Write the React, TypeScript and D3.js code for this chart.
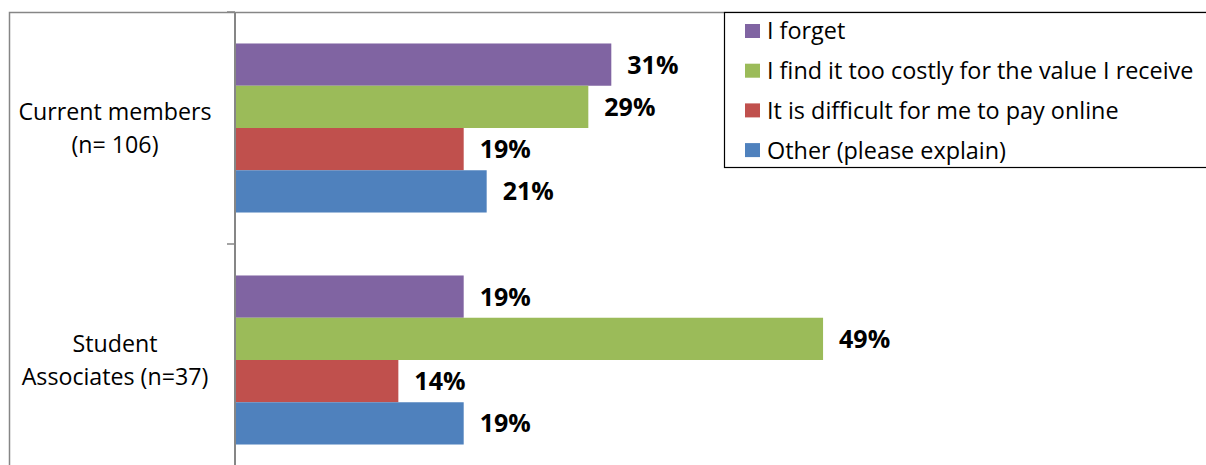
import * as d3 from 'd3';

const categories = ['Current members\n(n= 106)', 'Student\nAssociates (n=37)'];
const seriesNames = [
  'I forget',
  'I find it too costly for the value I receive',
  'It is difficult for me to pay online',
  'Other (please explain)',
];
const seriesColors = ['#8064A2', '#9BBB59', '#C0504D', '#4F81BD'];
// percent per series, one value per category
const forgetValues = [31.1, 18.9];
const costlyValues = [29.2, 48.6];
const payOnlineValues = [18.9, 13.5];
const otherValues = [20.8, 18.9];
const seriesValues = [forgetValues, costlyValues, payOnlineValues, otherValues];

const W = 1206;
const H = 465;
const FONT = '"Open Sans", "Liberation Sans", Arial, sans-serif';

export default function App() {
  const x = d3.scaleLinear().domain([0, 80]).range([235, 1203]);
  const y0 = d3.scaleBand<string>().domain(categories).range([12, 476]);
  // grouped bars take ~73% of each category band
  const inner = d3.scaleBand<number>().domain(d3.range(seriesNames.length)).range([0, y0.bandwidth()]).paddingOuter(0.745);

  return (
    <svg width={W} height={H} style={{ position: 'absolute', left: 0, top: 0, background: '#fff' }}>
      <rect x={9.5} y={12.5} width={W} height={H} fill="#fff" stroke="#868686" strokeWidth={1.5} />
      {categories.map((c, ci) => (
        <g key={c}>
          {seriesValues.map((vals, si) => {
            const by = (y0(c) as number) + (inner(si) as number);
            const bh = inner.bandwidth();
            return (
              <g key={si}>
                <rect x={x(0)} y={by} width={x(vals[ci]) - x(0)} height={bh} fill={seriesColors[si]} />
                <text x={x(vals[ci]) + 16} y={by + bh / 2} dy="0.36em" fontFamily={FONT} fontWeight="bold" fontSize={25} fill="#000">
                  {d3.format('.0f')(vals[ci]) + '%'}
                </text>
              </g>
            );
          })}
          {c.split('\n').map((line, li) => (
            <text key={li} x={115} y={(y0(c) as number) + y0.bandwidth() / 2 - 16 + li * 33} dy="0.36em" textAnchor="middle" fontFamily={FONT} fontSize={23.2} fill="#000">
              {line}
            </text>
          ))}
        </g>
      ))}
      {/* axis */}
      <line x1={x(0)} x2={x(0)} y1={12} y2={H} stroke="#868686" strokeWidth={2} />
      {[12, 244, 476].map(t => (
        <line key={t} x1={227} x2={x(0)} y1={t} y2={t} stroke="#868686" strokeWidth={1.5} />
      ))}
      {/* legend */}
      <rect x={724.5} y={12.5} width={W} height={155} fill="#fff" stroke="#000" strokeWidth={1.2} />
      {seriesNames.map((s, i) => (
        <g key={s} transform={`translate(745,${31 + i * 39.7})`}>
          <rect x={0} y={-7} width={15} height={14} fill={seriesColors[i]} />
          <text x={22} y={0} dy="0.36em" fontFamily={FONT} fontSize={23.4} fill="#000">{s}</text>
        </g>
      ))}
    </svg>
  );
}
